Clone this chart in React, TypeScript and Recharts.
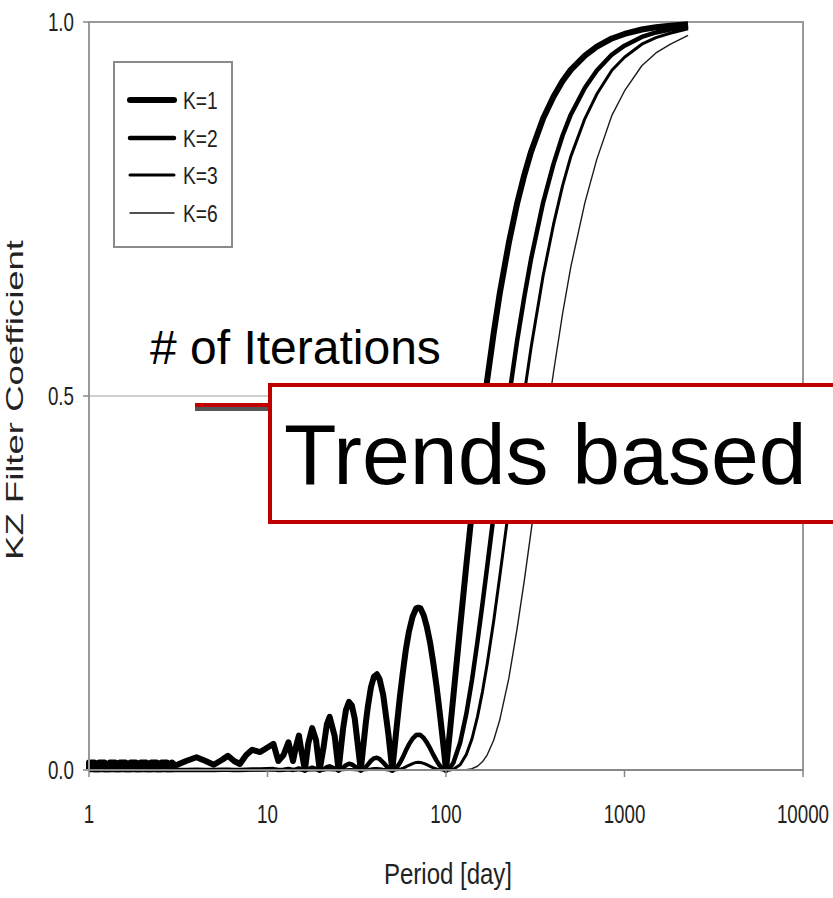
import React from 'react';
import { LineChart, Line, XAxis, YAxis, ReferenceLine, ReferenceArea, Legend } from 'recharts';

// periods in days (log axis); the 1–3 day stretch is a dense band of ripple
const periods = [
  1, 1, 1.07, 1.07, 1.14, 1.14, 1.22, 1.22, 1.31, 1.31, 1.4, 1.4, 1.49, 1.49, 1.6, 1.6, 1.71, 1.71,
  1.83, 1.83, 1.95, 1.95, 2.09, 2.09, 2.23, 2.23, 2.39, 2.39, 2.55, 2.55, 2.73, 2.73, 2.92, 2.92,
  3.05, 3.5, 4.0, 4.5, 5.0, 5.6, 6.0, 6.5, 7.0, 7.6, 8.2, 9.1, 10, 10.8, 11.5, 12.3, 13.1, 13.9,
  14.4, 15.0, 15.5, 16.2, 16.9, 17.8, 18.7, 19.6, 20.6, 21.5, 22.3, 23.8, 25,
  26.5, 27.5, 28.6, 29.7, 30.8, 33.3, 35.5, 36.5, 38, 39.5, 41, 42.5, 44.5, 47.5, 50, 53, 55, 57,
  59.5, 62, 65, 68, 70, 72, 75, 78, 81.5, 85, 88.5, 92, 96, 100,
  105, 110, 120, 130, 140, 150, 160, 170, 185, 200, 225, 250, 275, 300, 350, 400, 450, 500, 600,
  700, 850, 1000, 1250, 1500, 1800, 2270,
];

const k1 = [
  0.001, 0.01, 0.01, 0.001, 0.001, 0.01, 0.01, 0.001, 0.001, 0.01, 0.01, 0.001, 0.001, 0.01, 0.01, 0.001, 0.001, 0.01,
  0.01, 0.001, 0.001, 0.01, 0.01, 0.001, 0.001, 0.01, 0.01, 0.001, 0.001, 0.01, 0.01, 0.001, 0.001, 0.01,
  0.006, 0.012, 0.017, 0.012, 0.007, 0.014, 0.019, 0.012, 0.008, 0.02, 0.027, 0.024, 0.03, 0.035, 0.012, 0.02, 0.037, 0.012,
  0.03, 0.046, 0.025, 0, 0.035, 0.056, 0.04, 0, 0.03, 0.061, 0.071, 0.045, 0,
  0.055, 0.08, 0.091, 0.086, 0.069, 0, 0.062, 0.085, 0.111, 0.125, 0.128, 0.121, 0.1, 0.049, 0, 0.059, 0.095, 0.126,
  0.16, 0.185, 0.205, 0.216, 0.217, 0.216, 0.207, 0.192, 0.17, 0.142, 0.112, 0.079, 0.04, 0,
  0.05, 0.099, 0.191, 0.274, 0.348, 0.414, 0.471, 0.521, 0.584, 0.637, 0.705, 0.757, 0.796, 0.827, 0.871, 0.9, 0.921, 0.936, 0.955,
  0.967, 0.978, 0.984, 0.99, 0.993, 0.995, 0.997,
];

const k2 = [
  0, 0, 0, 0, 0, 0, 0, 0, 0, 0, 0, 0, 0, 0, 0, 0, 0, 0,
  0, 0, 0, 0, 0, 0, 0, 0, 0, 0, 0, 0, 0, 0, 0, 0,
  0, 0.0001, 0.0003, 0.0001, 0, 0.0002, 0.0004, 0.0001, 0.0001, 0.0004, 0.0007, 0.0006, 0.0009, 0.0012, 0.0001, 0.0004, 0.0014, 0.0001,
  0.0009, 0.0021, 0.0006, 0, 0.0012, 0.0031, 0.0016, 0, 0.0009, 0.0037, 0.005, 0.002, 0,
  0.003, 0.0064, 0.0083, 0.0074, 0.0048, 0, 0.0038, 0.0072, 0.0123, 0.0156, 0.0164, 0.0146, 0.01, 0.0024, 0, 0.0035, 0.009, 0.0159,
  0.0256, 0.0342, 0.042, 0.0467, 0.0471, 0.0467, 0.0428, 0.0369, 0.0289, 0.0202, 0.0125, 0.0062, 0.0016, 0,
  0.0025, 0.0098, 0.0365, 0.0751, 0.1211, 0.1714, 0.2218, 0.2714, 0.3411, 0.4058, 0.497, 0.573, 0.6336, 0.6839, 0.7586, 0.81, 0.8482, 0.8761, 0.912,
  0.9351, 0.9565, 0.9683, 0.9801, 0.986, 0.99, 0.994,
];

const k3 = [
  0, 0, 0, 0, 0, 0, 0, 0, 0, 0, 0, 0, 0, 0, 0, 0, 0, 0,
  0, 0, 0, 0, 0, 0, 0, 0, 0, 0, 0, 0, 0, 0, 0, 0,
  0, 0, 0, 0, 0, 0, 0, 0, 0, 0, 0, 0, 0, 0, 0, 0, 0.0001, 0,
  0, 0.0001, 0, 0, 0, 0.0002, 0.0001, 0, 0, 0.0002, 0.0004, 0.0001, 0,
  0.0002, 0.0005, 0.0008, 0.0006, 0.0003, 0, 0.0002, 0.0006, 0.0014, 0.002, 0.0021, 0.0018, 0.001, 0.0001, 0, 0.0002, 0.0009, 0.002,
  0.0041, 0.0063, 0.0086, 0.0101, 0.0102, 0.0101, 0.0089, 0.0071, 0.0049, 0.0029, 0.0014, 0.0005, 0.0001, 0,
  0.0001, 0.001, 0.007, 0.0206, 0.0421, 0.071, 0.1045, 0.1414, 0.1992, 0.2585, 0.3504, 0.4338, 0.5044, 0.5656, 0.6608, 0.729, 0.7812, 0.82, 0.8709,
  0.9037, 0.9355, 0.9528, 0.9703, 0.9791, 0.985, 0.991,
];

const k6 = [
  0, 0, 0, 0, 0, 0, 0, 0, 0, 0, 0, 0, 0, 0, 0, 0, 0, 0,
  0, 0, 0, 0, 0, 0, 0, 0, 0, 0, 0, 0, 0, 0, 0, 0,
  0, 0, 0, 0, 0, 0, 0, 0, 0, 0, 0, 0, 0, 0, 0, 0, 0, 0,
  0, 0, 0, 0, 0, 0, 0, 0, 0, 0, 0, 0, 0,
  0, 0, 0, 0, 0, 0, 0, 0, 0, 0, 0, 0, 0, 0, 0, 0, 0, 0,
  0, 0, 0.0001, 0.0001, 0.0001, 0.0001, 0.0001, 0, 0, 0, 0, 0, 0, 0,
  0, 0, 0, 0.0004, 0.0018, 0.005, 0.0109, 0.02, 0.0397, 0.0668, 0.1228, 0.1882, 0.2544, 0.3199, 0.4367, 0.5314, 0.6103, 0.6724, 0.7585,
  0.8167, 0.8752, 0.9078, 0.9415, 0.9586, 0.9702, 0.982,
];

const seriesNames = ['K=1', 'K=2', 'K=3', 'K=6'];
const seriesKeys = ['k1', 'k2', 'k3', 'k6'];
const xTicks = [1, 10, 100, 1000, 10000];
const yTicks = [0, 0.5, 1];

const lineWidths = [6, 4.5, 3, 1.4];
const lineColors = ['#000', '#000', '#000', '#1a1a1a'];
const FONT = "'Liberation Sans', Arial, sans-serif";

const data = periods.map((p, i) => ({ period: p, k1: k1[i], k2: k2[i], k3: k3[i], k6: k6[i] }));

const XTick = (props: any) => {
  const { x, y, payload } = props;
  return (
    <text transform={`translate(${x},${y + 44}) scale(0.75,1)`} textAnchor="middle" fontSize={25} fill="#222" fontFamily={FONT}>
      {payload.value}
    </text>
  );
};

const YTick = (props: any) => {
  const { x, y, payload } = props;
  return (
    <text transform={`translate(${x - 7},${y + 9}) scale(0.75,1)`} textAnchor="end" fontSize={25} fill="#222" fontFamily={FONT}>
      {payload.value.toFixed(1)}
    </text>
  );
};

const LegendBox = () => (
  <div style={{ width: 120, height: 187, border: '2px solid #8a8a8a', boxSizing: 'border-box', background: '#fff', position: 'relative' }}>
    {seriesNames.map((name, i) => (
      <div key={name} style={{ position: 'absolute', left: 12, top: 27 + i * 37.5, height: 20, width: 100 }}>
        <svg width={50} height={20} style={{ position: 'absolute', left: 0, top: 0 }}>
          <line x1={3} x2={47} y1={10} y2={10} stroke={lineColors[i]} strokeWidth={lineWidths[i]} strokeLinecap="round" />
        </svg>
        <svg width={60} height={28} style={{ position: 'absolute', left: 56, top: -4 }}>
          <text transform="translate(0,23) scale(0.8,1)" fontSize={24} fill="#222" fontFamily={FONT}>{name}</text>
        </svg>
      </div>
    ))}
  </div>
);

export default function App() {
  return (
    <div style={{ position: 'absolute', left: 0, top: 0, width: 833, height: 898, overflow: 'hidden', background: '#fff' }}>
      <LineChart width={833} height={898} data={data} margin={{ top: 22, right: 30, bottom: 98, left: 29 }}>
        <ReferenceArea x1={1} x2={10000} y1={0} y2={1} fill="none" stroke="#999" strokeWidth={2} />
        <ReferenceLine y={0.5} stroke="#cfcfcf" strokeWidth={2} />
        <XAxis
          dataKey="period"
          type="number"
          scale="log"
          domain={[1, 10000]}
          ticks={xTicks}
          height={30}
          tickSize={7}
          axisLine={{ stroke: '#888', strokeWidth: 2 }}
          tickLine={{ stroke: '#888', strokeWidth: 1.5 }}
          tick={<XTick />}
          label={{
            content: () => (
              <text transform="translate(448,884) scale(0.8,1)" textAnchor="middle" fontSize={30} fill="#222" fontFamily={FONT}>
                Period [day]
              </text>
            ),
          }}
        />
        <YAxis
          type="number"
          domain={[0, 1]}
          ticks={yTicks}
          width={60}
          tickSize={6}
          axisLine={{ stroke: '#999', strokeWidth: 2 }}
          tickLine={{ stroke: '#888', strokeWidth: 1.5 }}
          tick={<YTick />}
          label={{
            content: () => (
              <text
                transform="translate(23,400) scale(0.75,1) rotate(-90)"
                textAnchor="middle"
                fontSize={33}
                fill="#222"
                fontFamily={FONT}
                textLength={320}
                lengthAdjust="spacingAndGlyphs"
              >
                KZ Filter Coefficient
              </text>
            ),
          }}
        />
        <Legend
          layout="vertical"
          align="center"
          verticalAlign="middle"
          content={() => <LegendBox />}
          wrapperStyle={{ position: 'absolute', left: 113, top: 61, width: 120, height: 187 }}
        />
        {seriesKeys.map((key, i) => (
          <Line
            key={key}
            dataKey={key}
            name={seriesNames[i]}
            type="linear"
            stroke={lineColors[i]}
            strokeWidth={lineWidths[i]}
            strokeLinejoin="round"
            dot={false}
            isAnimationActive={false}
          />
        ))}
      </LineChart>
      <svg width={833} height={898} style={{ position: 'absolute', left: 0, top: 0, pointerEvents: 'none' }}>
        <text x={150} y={364} fontSize={48} fill="#000" fontFamily={FONT}># of Iterations</text>
        <rect x={195} y={407} width={80} height={4} fill="#555" />
        <rect x={195} y={403} width={80} height={4} fill="#c00000" />
        <rect x={270} y={385} width={620} height={137} fill="#fff" stroke="#c00000" strokeWidth={4} />
        <text x={284} y={484} fontSize={86} fill="#000" fontFamily={FONT}>Trends based</text>
      </svg>
    </div>
  );
}
